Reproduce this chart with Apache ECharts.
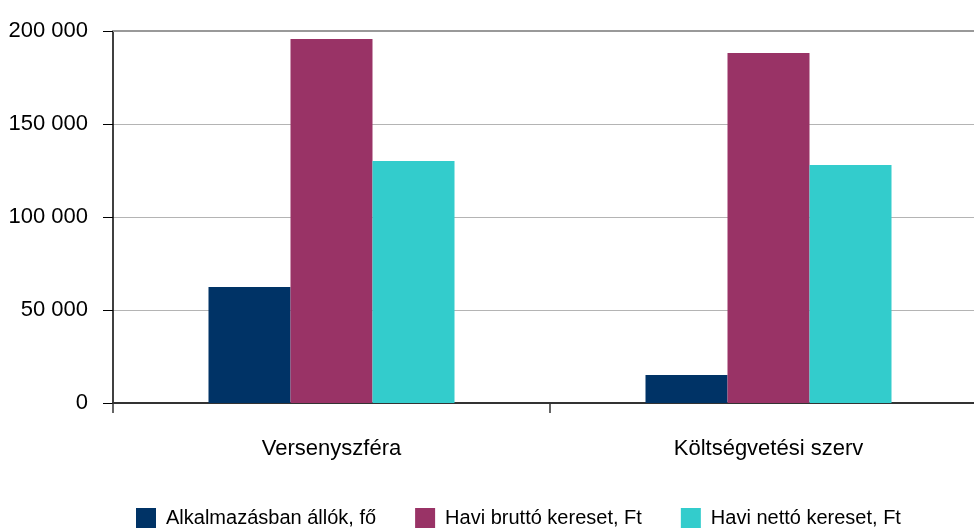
<!DOCTYPE html>
<html>
<head>
<meta charset="utf-8">
<script src="https://cdn.jsdelivr.net/npm/echarts@6/dist/echarts.min.js"></script>
<style>
  html, body { margin: 0; padding: 0; background: #fff; }
  #main { width: 974px; height: 530px; }
</style>
</head>
<body>
<div id="main"></div>
<script>
// kategóriák és sorozatok
const categories = ['Versenyszféra', 'Költségvetési szerv']
const seriesNames = ['Alkalmazásban állók, fő', 'Havi bruttó kereset, Ft', 'Havi nettó kereset, Ft']
const alkalmazott = [62400, 15000]
const brutto = [195700, 188200]
const netto = [130100, 128000]
const colors = ['#003366', '#993366', '#33CCCC']

const fmt = v => String(v).replace(/\B(?=(\d{3})+(?!\d))/g, ' ')
const font = "'Liberation Sans', Arial, sans-serif"

const chart = echarts.init(document.getElementById('main'))
const values = [alkalmazott, brutto, netto]

chart.setOption({
  animation: false,
  color: colors,
  textStyle: { fontFamily: font },
  grid: { left: 113, width: 874, top: 31, bottom: 127, outerBoundsMode: 'none' },
  legend: {
    left: 136,
    top: 508,
    padding: 0,
    width: 880,
    itemWidth: 20,
    itemHeight: 20,
    itemGap: 39,
    icon: 'rect',
    textStyle: { fontSize: 20, color: '#000', fontFamily: font, padding: [0, 0, 4, 5] },
    data: seriesNames
  },
  xAxis: [
    {
      type: 'category',
      data: categories,
      axisLine: { lineStyle: { color: '#333', width: 2 } },
      axisTick: { show: true, length: 10, lineStyle: { color: '#333', width: 1.5 } },
      axisLabel: { fontSize: 22, color: '#000', margin: 35, fontFamily: font }
    },
    {
      type: 'category',
      position: 'top',
      data: categories,
      axisLine: { lineStyle: { color: '#999', width: 2 } },
      axisTick: { show: false },
      axisLabel: { show: false }
    }
  ],
  yAxis: {
    type: 'value',
    min: 0,
    max: 200000,
    interval: 50000,
    axisLine: { show: true, lineStyle: { color: '#000', width: 1.5 } },
    axisTick: { show: true, length: 10, lineStyle: { color: '#000' } },
    splitLine: { lineStyle: { color: '#b4b4b4', width: 1 } },
    axisLabel: {
      fontSize: 22,
      color: '#000',
      margin: 25,
      fontFamily: font,
      padding: [0, 0, 8, 0],
      formatter: fmt
    }
  },
  series: seriesNames.map((name, i) => ({
    name: name,
    type: 'bar',
    barWidth: 82,
    barGap: '0%',
    data: values[i],
    itemStyle: { color: colors[i] }
  }))
})
</script>
</body>
</html>
